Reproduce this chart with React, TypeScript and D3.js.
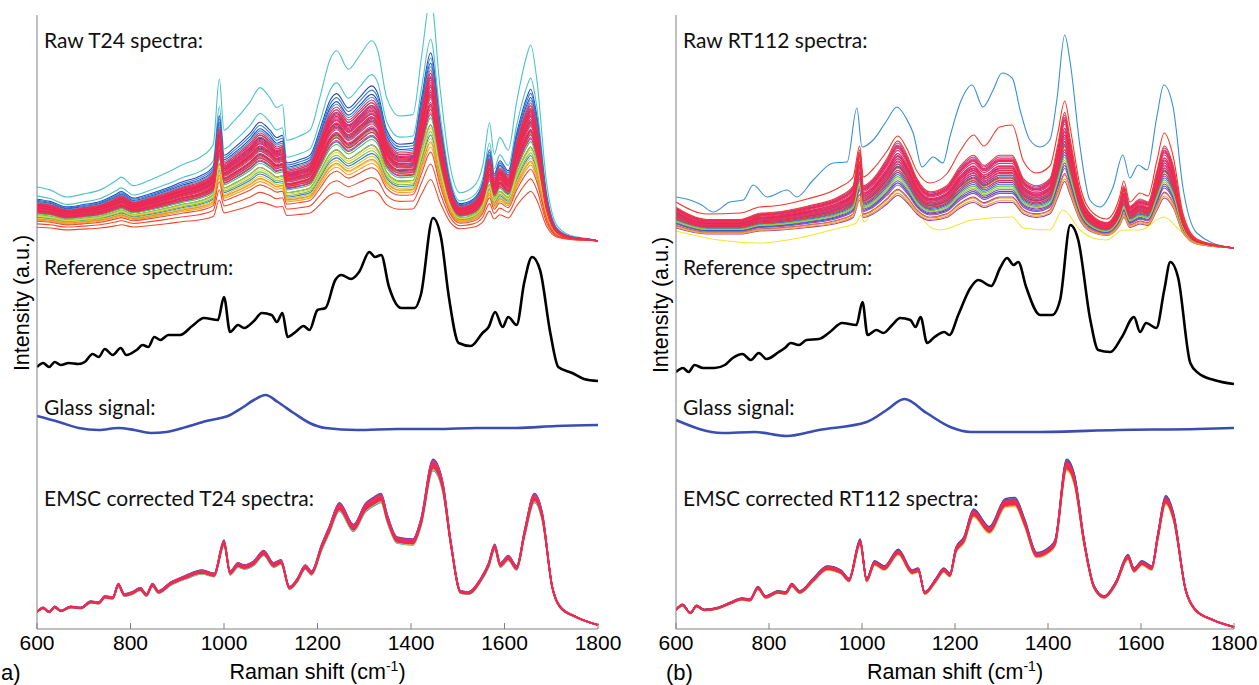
import React from 'react';
import * as d3 from 'd3';

type P = [number, number];

// x tick values (Raman shift, cm-1)
const xTicks = [600, 800, 1000, 1200, 1400, 1600, 1800];

// ---------- Panel (a): T24 ----------
// typical raw T24 spectrum (top of dense band), [wavenumber, intensity]
const rawT24Typical: P[] = [[600,42.6],[628,42.4],[664,41.9],[698,42.1],[735,42.4],[771,43.1],[780,43.3],[806,42.7],[842,43.1],[877,43.6],[913,44.2],[949,44.7],[977,45.6],[990,50.2],[1000,46.6],[1020,47.2],[1056,48.6],[1077,49.6],[1098,48.9],[1113,48.2],[1125,48.4],[1134,45.9],[1162,46.2],[1184,46.6],[1205,48.9],[1227,51.6],[1241,52.2],[1266,50.9],[1291,51.9],[1316,52.9],[1329,52.2],[1348,48.9],[1376,47.6],[1404,47.7],[1423,51.9],[1442,55.9],[1462,49.6],[1483,44.2],[1505,42.2],[1533,42.6],[1554,44.2],[1568,47.1],[1578,44.9],[1590,46.1],[1608,45.2],[1626,48.6],[1648,51.9],[1656,52.6],[1669,50.2],[1690,42.9],[1712,39.9],[1740,39.2],[1789,38.9],[1800,38.8]];
const rawT24Base = 38.8;
// per-spectrum intensity factors and colours (drawing order)
const rawT24Scales = [1.42,1.18,1.1,1.07,1.04,1.02,0.98,0.95,0.9,0.86,0.8,0.74,0.68,0.62,0.96,0.92,0.88,0.84,0.8,0.77,0.9,0.85,0.85,0.78,0.72,0.68,0.64,0.66,0.6,0.57,0.58,0.55,0.52,0.45,0.36,1.0,0.98,0.96,0.94,0.93,0.91,0.9,0.88,0.87,0.85,0.83,0.81,0.79,0.77,0.75];
const rawT24Colors = ['#4cc4c9','#4cc4c9','#2c48b8','#2f7fd3','#2c48b8','#3a9ad8','#2f7fd3','#2c48b8','#3a6fd0','#2c48b8','#2f7fd3','#3a6fd0','#2c48b8','#2f7fd3','#a04bb4','#8c3fa8','#a04bb4','#b050b0','#8c3fa8','#a04bb4','#d04fa2','#d04fa2','#79c143','#79c143','#5fb84a','#9ccc3c','#79c143','#e5d43a','#d8cc38','#e5d43a','#f08c2e','#f0a030','#ee4a2e','#ee4a2e','#ee4a2e','#ee2a55','#ee2a55','#f0305a','#ee2a55','#e8264e','#ee2a55','#f0305a','#ee2a55','#e8264e','#ee2a55','#f0305a','#ee2a55','#e8264e','#ee2a55','#f0305a'];

const refT24: P[] = [[600,26.2],[613,26.6],[626,26.2],[638,26.7],[651,26.4],[668,26.6],[689,26.5],[702,26.7],[719,27.5],[732,27.2],[745,28.0],[762,27.4],[779,28.1],[791,27.4],[813,27.9],[826,28.4],[838,28.2],[851,29.2],[864,28.9],[881,29.4],[906,29.4],[932,30.3],[957,31.1],[987,30.9],[1000,33.2],[1013,29.7],[1030,30.4],[1043,30.1],[1064,30.8],[1081,31.6],[1102,31.4],[1113,30.7],[1125,31.6],[1136,29.2],[1153,29.7],[1170,30.3],[1183,29.9],[1200,31.9],[1217,32.1],[1238,34.9],[1251,35.4],[1272,35.0],[1289,35.7],[1311,37.7],[1323,37.2],[1336,37.4],[1353,34.2],[1379,32.1],[1408,32.1],[1421,33.4],[1447,41.1],[1464,39.2],[1481,33.2],[1502,28.6],[1528,28.3],[1553,29.6],[1566,30.2],[1580,31.7],[1596,30.2],[1608,31.2],[1626,30.4],[1642,34.6],[1659,37.2],[1676,35.9],[1698,29.6],[1715,26.2],[1745,25.6],[1770,25.0],[1800,24.8]];

const glassT24: P[] = [[600,21.3],[647,20.7],[689,20.1],[732,19.9],[774,20.1],[808,19.9],[843,19.6],[877,19.7],[919,20.2],[962,20.8],[1013,21.4],[1038,22.1],[1064,22.9],[1089,23.4],[1115,22.7],[1149,21.6],[1183,20.6],[1217,20.1],[1285,19.9],[1370,20.0],[1455,20.0],[1540,20.1],[1626,20.1],[1711,20.3],[1800,20.4]];

const emscT24: P[] = [[600,1.7],[613,2.1],[626,1.7],[638,2.2],[651,1.8],[672,2.2],[694,2.1],[715,2.7],[732,2.6],[745,3.2],[762,3.1],[774,4.4],[787,3.4],[804,3.6],[821,4.0],[834,3.4],[847,4.4],[860,3.7],[885,4.5],[919,5.2],[953,5.7],[979,5.4],[1000,8.6],[1013,5.6],[1030,6.4],[1043,6.2],[1064,6.6],[1085,7.6],[1106,6.4],[1122,6.7],[1140,4.1],[1157,4.9],[1174,6.2],[1187,5.6],[1209,8.2],[1225,9.9],[1247,12.2],[1277,10.1],[1302,12.1],[1319,12.7],[1336,13.1],[1349,11.1],[1370,8.9],[1404,8.7],[1421,10.6],[1447,16.4],[1468,14.2],[1485,8.6],[1506,3.7],[1523,3.6],[1549,4.9],[1566,6.4],[1579,8.2],[1591,6.4],[1608,7.1],[1626,6.1],[1643,9.6],[1664,13.1],[1681,11.2],[1702,4.2],[1719,2.2],[1753,1.2],[1800,0.4]];
const emscT24Scales = [1.03,0.97,1.02,0.98,1.035,0.965,1.01,0.99,1.025,0.975,1.0,1.015,0.985,1.02,0.98,1.005,0.995,1.0,1.01,0.99,1.0,1.005,0.995,1.0];
const emscT24Colors = ['#3a4fc0','#e5d43a','#79c143','#f08c2e','#7a3fa8','#3ab0c8','#3a4fc0','#79c143','#a04bb4','#e5d43a','#3a4fc0','#f08c2e','#79c143','#ee2a55','#ee2a55','#e8264e','#ee2a55','#f0305a','#ee2a55','#e8264e','#ee2a55','#f0305a','#ee2a55','#ee2a55'];

// ---------- Panel (b): RT112 ----------
const rawRT112Typical: P[] = [[600,42.1],[667,40.9],[738,40.9],[780,41.5],[810,41.6],[882,42.2],[953,43.2],[981,44.2],[995,47.7],[1003,44.2],[1024,44.9],[1054,46.9],[1077,48.6],[1097,47.2],[1118,44.9],[1146,43.6],[1182,44.2],[1211,46.1],[1240,47.2],[1262,46.2],[1296,47.2],[1323,47.2],[1347,44.9],[1375,44.2],[1404,44.9],[1421,48.2],[1436,51.4],[1447,48.9],[1469,43.6],[1497,41.2],[1526,40.6],[1554,42.6],[1563,44.2],[1576,42.2],[1598,42.9],[1615,42.6],[1634,45.6],[1650,48.1],[1669,46.2],[1690,41.2],[1720,38.9],[1785,38.2],[1800,38.1]];
const rawRT112Base = 38.1;
const rawRT112Scales = [1.0,0.95,0.88,0.8,0.72,0.64,0.56,0.5,0.97,0.9,0.82,0.6,0.85,0.78,0.7,0.62,0.8,0.74,0.76,0.68,0.66,0.55,0.52,0.98,0.96,0.93,0.9,0.87,0.85,0.83,0.8,0.77,0.74,1.02];
const rawRT112Colors = ['#9b3fb0','#9b3fb0','#8a3aa8','#9b3fb0','#8a3aa8','#9b3fb0','#8a3aa8','#9b3fb0','#c43fa6','#c43fa6','#c43fa6','#c43fa6','#2f5fc8','#2f5fc8','#3a6fd0','#2f5fc8','#3bb5c0','#3bb5c0','#6cbf45','#6cbf45','#9ccc3c','#f08c2e','#f0a030','#ee2a55','#ee2a55','#f0305a','#ee2a55','#e8264e','#ee2a55','#f0305a','#ee2a55','#e8264e','#ee2a55','#f03c30'];
const rawRT112Blue: P[] = [[600,43.2],[630,42.9],[655,42.4],[680,41.7],[716,42.7],[745,42.9],[766,44.4],[796,43.2],[839,43.9],[860,43.2],[895,44.9],[938,46.6],[968,46.7],[989,52.1],[1000,48.2],[1024,48.9],[1054,50.9],[1075,52.2],[1097,50.9],[1110,49.6],[1129,46.2],[1153,47.2],[1174,46.6],[1189,49.2],[1211,52.6],[1237,54.4],[1260,52.2],[1282,53.9],[1301,55.6],[1323,55.1],[1340,51.9],[1361,48.9],[1383,48.2],[1404,48.9],[1419,52.9],[1436,59.4],[1447,56.9],[1469,48.2],[1490,42.9],[1512,42.2],[1540,44.2],[1561,47.4],[1576,45.1],[1594,46.4],[1613,45.9],[1634,51.2],[1649,54.4],[1669,52.2],[1690,44.2],[1720,39.6],[1785,38.2],[1800,38.1]];
const rawRT112Red: P[] = [[600,42.7],[667,41.5],[738,41.6],[780,42.2],[810,42.3],[882,43.0],[953,44.2],[981,45.2],[995,48.3],[1003,45.2],[1024,46.0],[1054,47.8],[1077,49.3],[1097,48.0],[1118,45.8],[1146,44.6],[1182,45.5],[1211,47.8],[1240,49.4],[1262,48.3],[1296,50.2],[1323,50.4],[1347,46.8],[1375,45.6],[1404,46.3],[1421,49.6],[1436,52.8],[1447,50.3],[1469,44.3],[1497,41.6],[1526,41.0],[1554,43.2],[1563,44.8],[1576,42.7],[1598,43.6],[1615,43.3],[1634,46.8],[1650,49.6],[1669,47.3],[1690,41.6],[1720,39.0],[1785,38.2],[1800,38.1]];
const rawRT112Yellow: P[] = [[600,39.8],[692,38.9],[778,38.6],[864,39.1],[950,40.1],[988,40.6],[997,41.4],[1005,40.7],[1030,42.6],[1075,43.6],[1110,42.2],[1150,40.1],[1168,39.9],[1237,40.9],[1323,41.2],[1347,40.1],[1404,39.9],[1432,41.9],[1469,39.9],[1497,39.1],[1526,38.9],[1561,39.9],[1598,39.9],[1649,41.2],[1683,39.9],[1720,38.6],[1800,38.1]];

const refRT112: P[] = [[600,25.7],[615,26.1],[627,25.7],[640,26.4],[658,26.1],[683,26.1],[705,26.4],[722,27.1],[743,27.5],[761,26.9],[778,27.6],[795,27.0],[821,27.7],[834,28.1],[847,28.6],[864,28.4],[881,28.9],[907,29.0],[931,29.7],[957,30.6],[988,30.4],[1001,32.7],[1012,29.4],[1031,29.9],[1046,29.6],[1065,30.4],[1082,31.1],[1104,30.9],[1115,30.2],[1126,31.2],[1140,28.6],[1156,29.2],[1177,29.7],[1188,29.4],[1207,31.4],[1233,34.1],[1250,34.9],[1278,34.3],[1297,36.1],[1312,37.1],[1326,36.4],[1336,36.7],[1353,34.2],[1383,31.4],[1409,31.4],[1426,32.9],[1448,40.4],[1465,38.9],[1491,30.9],[1508,27.9],[1534,27.7],[1559,29.2],[1585,31.2],[1598,29.7],[1611,30.6],[1633,30.1],[1650,33.9],[1663,36.7],[1680,35.1],[1706,26.6],[1723,25.6],[1757,24.9],[1800,24.5]];

const glassRT112: P[] = [[600,20.9],[700,19.6],[769,19.7],[838,19.3],[907,19.9],[1010,20.7],[1053,21.9],[1091,23.0],[1139,21.6],[1190,20.2],[1233,19.7],[1379,19.7],[1551,19.9],[1722,20.0],[1800,20.1]];

const emscRT112: P[] = [[600,1.9],[614,2.4],[631,1.6],[644,2.3],[661,1.9],[691,2.1],[717,2.6],[742,3.0],[759,2.9],[776,4.1],[793,3.2],[819,3.7],[836,3.6],[849,4.4],[866,3.7],[895,4.9],[925,6.1],[955,5.7],[972,4.9],[996,8.7],[1010,4.9],[1027,6.6],[1048,6.1],[1078,7.7],[1108,5.7],[1121,5.9],[1135,3.6],[1159,4.9],[1176,5.9],[1189,5.4],[1202,7.9],[1219,8.9],[1240,11.6],[1274,9.9],[1308,12.6],[1329,12.7],[1350,10.6],[1376,7.4],[1402,7.9],[1415,8.6],[1440,16.4],[1457,14.9],[1478,8.6],[1499,4.2],[1521,3.2],[1546,4.6],[1572,7.2],[1585,5.9],[1602,6.6],[1623,6.1],[1636,9.2],[1653,12.9],[1670,11.2],[1696,3.9],[1717,1.9],[1755,0.9],[1800,0.2]];
const emscRT112Scales = [1.03,0.97,1.02,0.98,1.035,0.965,1.01,0.99,1.025,0.975,1.0,1.015,0.985,1.02,0.98,1.005,0.995,1.0,1.01,0.99,1.0,1.005,0.995,1.0];
const emscRT112Colors = ['#e5d43a','#3a4fc0','#79c143','#3ab0c8','#3a4fc0','#e5d43a','#a04bb4','#79c143','#3a4fc0','#f08c2e','#7a3fa8','#3a4fc0','#79c143','#ee2a55','#ee2a55','#e8264e','#ee2a55','#f0305a','#ee2a55','#e8264e','#ee2a55','#f0305a','#ee2a55','#ee2a55'];

const W = 1259;
const H = 685;
const yScale = d3.scaleLinear().domain([0, 61.4]).range([629, 15]);

const labelFont = 'Lato, "Open Sans", sans-serif';
const axisFont = '"Liberation Sans", Arial, sans-serif';

function mkPath(x: d3.ScaleLinear<number, number>, pts: P[]) {
  return d3.line<P>().x(d => x(d[0])).y(d => yScale(d[1])).curve(d3.curveMonotoneX)(pts) || '';
}

interface PanelProps {
  id: string;
  left: number;
  right: number;
  name: string;
  rawTyp: P[];
  rawBase: number;
  rawScales: number[];
  rawColors: string[];
  extraBefore?: { pts: P[]; color: string }[];
  ref: P[];
  glass: P[];
  emsc: P[];
  emscScales: number[];
  emscColors: string[];
  yLabelX: number;
  yLabelY: number;
  tag: string;
  tagX: number;
}

function Panel(p: PanelProps) {
  const x = d3.scaleLinear().domain([600, 1800]).range([p.left, p.right]);
  const lx = p.left + 7;
  const scaled = (s: number) => p.rawTyp.map(([w, v]) => [w, p.rawBase + s * (v - p.rawBase)] as P);
  return (
    <g>
      <defs>
        <clipPath id={'clip' + p.id}>
          <rect x={p.left} y={13} width={p.right - p.left + 2} height={629 - 13} />
        </clipPath>
      </defs>
      <g clipPath={`url(#clip${p.id})`}>
        {(p.extraBefore || []).map((e, i) => (
          <path key={'eb' + i} d={mkPath(x, e.pts)} fill="none" stroke={e.color} strokeWidth={1.1} />
        ))}
        {p.rawScales.map((s, i) => (
          <path key={'r' + i} d={mkPath(x, scaled(s))} fill="none" stroke={p.rawColors[i]} strokeWidth={1.1} />
        ))}
        <path d={mkPath(x, p.ref)} fill="none" stroke="#000" strokeWidth={2.6} />
        <path d={mkPath(x, p.glass)} fill="none" stroke="#3a4db3" strokeWidth={2.6} />
        {p.emscScales.map((s, i) => (
          <path key={'e' + i} d={mkPath(x, p.emsc.map(([w, v]) => [w, v * s] as P))} fill="none" stroke={p.emscColors[i]} strokeWidth={1.4} />
        ))}
      </g>
      <line x1={p.left} x2={p.left} y1={15} y2={629} stroke="#808080" strokeWidth={1} />
      <line x1={p.left} x2={p.right} y1={629} y2={629} stroke="#808080" strokeWidth={1} />
      {xTicks.map(t => (
        <g key={t}>
          <line x1={x(t)} x2={x(t)} y1={629} y2={623} stroke="#808080" strokeWidth={1} />
          <text x={x(t)} y={649.5} textAnchor="middle" fontFamily={axisFont} fontSize={21} fill="#000">{t}</text>
        </g>
      ))}
      <text x={(p.left + p.right) / 2} y={679} textAnchor="middle" fontFamily={axisFont} fontSize={21.5} fill="#000">
        Raman shift (cm<tspan dy={-8} fontSize={14}>-1</tspan><tspan dy={8}>)</tspan>
      </text>
      <text transform={`translate(${p.yLabelX},${p.yLabelY}) rotate(-90)`} textAnchor="middle" dominantBaseline="central" fontFamily={axisFont} fontSize={21.5} fill="#000">Intensity (a.u.)</text>
      <text x={p.tagX} y={680} fontFamily={axisFont} fontSize={22} fill="#000">{p.tag}</text>
      <text x={lx} y={48} fontFamily={labelFont} fontSize={21} fill="#111">{`Raw ${p.name} spectra:`}</text>
      <text x={lx} y={275} fontFamily={labelFont} fontSize={21} fill="#111">Reference spectrum:</text>
      <text x={lx} y={415} fontFamily={labelFont} fontSize={21} fill="#111">Glass signal:</text>
      <text x={lx} y={506} fontFamily={labelFont} fontSize={21} fill="#111">{`EMSC corrected ${p.name} spectra:`}</text>
    </g>
  );
}

export default function App() {
  return (
    <svg width={W} height={H} style={{ position: 'absolute', left: 0, top: 0, background: '#fff' }}>
      <rect x={0} y={0} width={W} height={H} fill="#fff" />
      <Panel
        id="a" left={37} right={598} name="T24"
        rawTyp={rawT24Typical} rawBase={rawT24Base} rawScales={rawT24Scales} rawColors={rawT24Colors}
        ref={refT24} glass={glassT24} emsc={emscT24} emscScales={emscT24Scales} emscColors={emscT24Colors}
        yLabelX={22} yLabelY={303} tag="a)" tagX={1}
      />
      <Panel
        id="b" left={676} right={1234} name="RT112"
        rawTyp={rawRT112Typical} rawBase={rawRT112Base} rawScales={rawRT112Scales} rawColors={rawRT112Colors}
        extraBefore={[{ pts: rawRT112Blue, color: '#3a8fd8' }, { pts: rawRT112Yellow, color: '#f2e633' }, { pts: rawRT112Red, color: '#ee3a2a' }]}
        ref={refRT112} glass={glassRT112} emsc={emscRT112} emscScales={emscRT112Scales} emscColors={emscRT112Colors}
        yLabelX={661} yLabelY={305} tag="(b)" tagX={666}
      />
    </svg>
  );
}
